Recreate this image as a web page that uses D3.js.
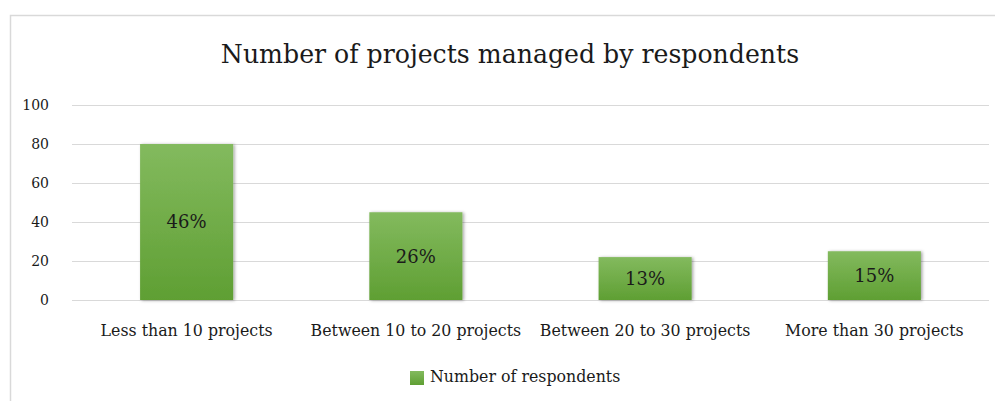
<!DOCTYPE html>
<html>
<head>
<meta charset="utf-8">
<script src="https://cdn.jsdelivr.net/npm/d3@7"></script>
<style>
  body { margin: 0; background: #fff; }
  svg text { font-family: "DejaVu Serif", serif; fill: #1a1a1a; }
</style>
</head>
<body>
<svg width="995" height="401"></svg>
<script>
'use strict'

const categories = ['Less than 10 projects', 'Between 10 to 20 projects', 'Between 20 to 30 projects', 'More than 30 projects']
const values = [80, 45, 22, 25]
const percentLabels = ['46%', '26%', '13%', '15%']
const yTicks = [0, 20, 40, 60, 80, 100]
const seriesName = 'Number of respondents'
const title = 'Number of projects managed by respondents'

const svg = d3.select('svg')
const margin = { left: 72, right: 6, top: 105, bottom: 101 }
const width = 995, height = 401
const serif = '"DejaVu Serif", serif'

const defs = svg.append('defs')
const grad = defs.append('linearGradient').attr('id', 'barGrad')
  .attr('x1', 0).attr('y1', 0).attr('x2', 0).attr('y2', 1)
grad.append('stop').attr('offset', '0%').attr('stop-color', '#83ba5e')
grad.append('stop').attr('offset', '100%').attr('stop-color', '#5f9f33')
const shadow = defs.append('filter').attr('id', 'shadow')
  .attr('x', '-10%').attr('y', '-10%').attr('width', '125%').attr('height', '125%')
shadow.append('feDropShadow').attr('dx', 1.5).attr('dy', 0.5).attr('stdDeviation', 1.5)
  .attr('flood-color', '#000').attr('flood-opacity', 0.35)

// chart frame
svg.append('path')
  .attr('d', `M10.5,${height} V15.5 H${width}`)
  .attr('fill', 'none').attr('stroke', '#d9d9d9').attr('stroke-width', 1.5)

const x = d3.scaleBand().domain(categories)
  .range([margin.left, width - margin.right]).paddingInner(0.594).paddingOuter(0.297)
const y = d3.scaleLinear().domain([0, 100]).range([height - margin.bottom, margin.top])

// gridlines
svg.append('g').selectAll('line').data(yTicks).enter().append('line')
  .attr('x1', margin.left).attr('x2', width - margin.right)
  .attr('y1', (d) => Math.round(y(d)) + 0.5).attr('y2', (d) => Math.round(y(d)) + 0.5)
  .attr('stroke', '#d9d9d9').attr('stroke-width', 1)

// y axis labels
const yAxis = d3.axisLeft(y).tickValues(yTicks).tickSize(0).tickPadding(0)
svg.append('g').attr('transform', 'translate(49,0)').call(yAxis)
  .call((g) => g.select('.domain').remove())
  .selectAll('text')
  .style('font-family', serif).style('font-size', '14px').attr('fill', '#1a1a1a')

// bars
svg.append('g').selectAll('rect').data(values).enter().append('rect')
  .attr('x', (d, i) => x(categories[i]))
  .attr('y', (d) => y(d))
  .attr('width', x.bandwidth())
  .attr('height', (d) => y(0) - y(d))
  .attr('fill', 'url(#barGrad)')
  .attr('filter', 'url(#shadow)')

// data labels
svg.append('g').selectAll('text').data(values).enter().append('text')
  .attr('x', (d, i) => x(categories[i]) + x.bandwidth() / 2)
  .attr('y', (d) => (y(d) + y(0)) / 2)
  .attr('dy', '0.36em')
  .attr('text-anchor', 'middle')
  .style('font-size', '18px')
  .text((d, i) => percentLabels[i])

// x axis labels
const xAxis = d3.axisBottom(x).tickSize(0).tickPadding(0)
svg.append('g').attr('transform', `translate(0,${y(0) + 36})`).call(xAxis)
  .call((g) => g.select('.domain').remove())
  .selectAll('text')
  .attr('dy', 0)
  .style('font-family', serif).style('font-size', '15.8px').attr('fill', '#1a1a1a')

// title
svg.append('text')
  .attr('x', 510).attr('y', 63)
  .attr('text-anchor', 'middle')
  .style('font-size', '25.2px')
  .text(title)

// legend
const legend = svg.append('g').attr('transform', 'translate(410,371)')
legend.append('rect').attr('width', 14).attr('height', 14).attr('fill', 'url(#barGrad)')
legend.append('text').attr('x', 20).attr('y', 10.5).style('font-size', '15.8px').text(seriesName)
</script>
</body>
</html>
